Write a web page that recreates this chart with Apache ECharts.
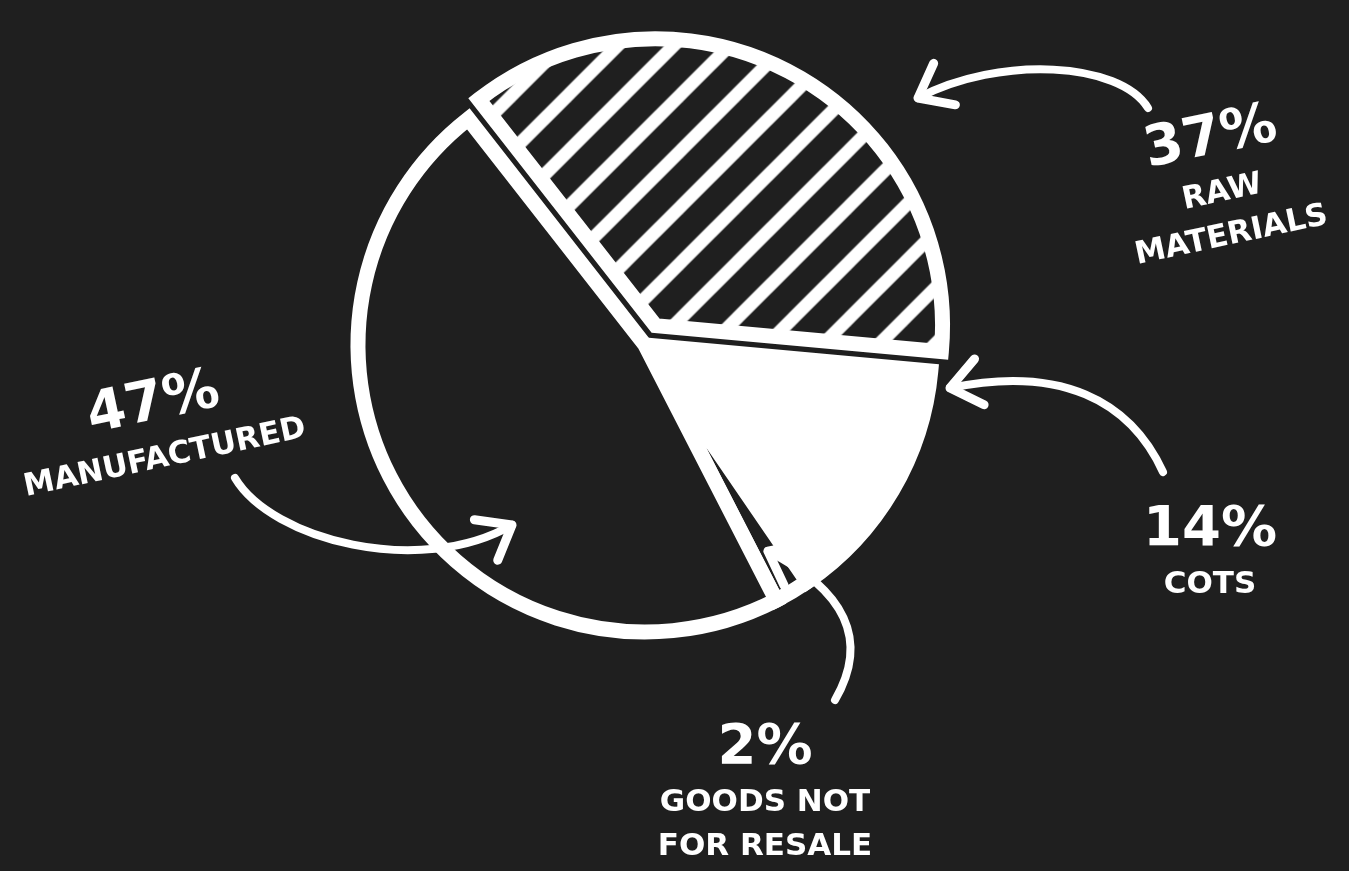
<!DOCTYPE html>
<html>
<head>
<meta charset="utf-8">
<script src="https://cdn.jsdelivr.net/npm/echarts@6/dist/echarts.min.js"></script>
<style>
html,body{margin:0;padding:0;background:#1f1f1f;}
#chart{width:1349px;height:871px;}
</style>
</head>
<body>
<div id="chart"></div>
<script>
// ---- data ----
const categories = ['Raw Materials', 'COTS', 'Goods not for resale', 'Manufactured'];
const values = [37, 14, 2, 47];
const percentLabels = ['37%', '14%', '2%', '47%'];
const nameLines = [['RAW', 'MATERIALS'], ['COTS'], ['GOODS NOT', 'FOR RESALE'], ['MANUFACTURED']];

// ---- layout / style ----
const BG = '#1f1f1f';
const FG = '#ffffff';
const CENTER = [645, 345];
const RADIUS = 287;
const START = 128;
const FONT = 'DejaVu Sans';
const labelPos = [
  { x: 1220, y: 182, rotate: 12 },
  { x: 1210, y: 552, rotate: 0 },
  { x: 765, y: 792, rotate: 0 },
  { x: 158, y: 426, rotate: 12 }
];

// hatch pattern
function hatch() {
  const s = 56, c = document.createElement('canvas');
  c.width = s; c.height = s;
  const g = c.getContext('2d');
  g.fillStyle = BG; g.fillRect(0, 0, s, s);
  g.strokeStyle = FG; g.lineWidth = 13;
  [[-s, s, s, -s], [0, s, s, 0], [0, 2 * s, 2 * s, 0]].forEach(l => {
    g.beginPath(); g.moveTo(l[0], l[1]); g.lineTo(l[2], l[3]); g.stroke();
  });
  return c;
}
const fills = [{ image: hatch(), repeat: 'repeat' }, FG, BG, BG];

const total = values.reduce((a, b) => a + b, 0);
function midAngle(i) {
  let cum = 0;
  for (let k = 0; k < i; k++) cum += values[k];
  return (START - 360 * (cum + values[i] / 2) / total) * Math.PI / 180;
}

function arrow(p0, c1, c2, p1) {
  const dx = p1[0] - c2[0], dy = p1[1] - c2[1];
  const len = Math.hypot(dx, dy), ux = dx / len, uy = dy / len;
  const L = 38, a = 38 * Math.PI / 180;
  const b1 = [p1[0] - L * (ux * Math.cos(a) - uy * Math.sin(a)), p1[1] - L * (uy * Math.cos(a) + ux * Math.sin(a))];
  const b2 = [p1[0] - L * (ux * Math.cos(a) + uy * Math.sin(a)), p1[1] - L * (uy * Math.cos(a) - ux * Math.sin(a))];
  return [
    { type: 'bezierCurve', silent: true, z: 100, shape: { x1: p0[0], y1: p0[1], cpx1: c1[0], cpy1: c1[1], cpx2: c2[0], cpy2: c2[1], x2: p1[0], y2: p1[1] },
      style: { stroke: FG, lineWidth: 8, fill: null, lineCap: 'round' } },
    { type: 'polyline', silent: true, z: 100, shape: { points: [b1, p1, b2] },
      style: { stroke: FG, lineWidth: 9, fill: null, lineCap: 'round', lineJoin: 'round' } }
  ];
}

const ga = midAngle(2);
const goodsTip = [CENTER[0] + 240 * Math.cos(ga), CENTER[1] - 240 * Math.sin(ga)];

const labels = categories.map((c, i) => ({
  type: 'text', silent: true, z: 100,
  x: labelPos[i].x, y: labelPos[i].y,
  rotation: labelPos[i].rotate * Math.PI / 180,
  style: {
    text: ['{p|' + percentLabels[i] + '}'].concat(nameLines[i].map(t => '{n|' + t + '}')).join('\n'),
    align: 'center', verticalAlign: 'middle', fill: FG,
    rich: {
      p: { fontSize: 56, fontWeight: 'bold', lineHeight: 66, fill: FG, fontFamily: FONT, align: 'center' },
      n: { fontSize: 31, fontWeight: 'bold', lineHeight: 44, fill: FG, fontFamily: FONT, align: 'center' }
    }
  }
}));

const graphics = [].concat(
  arrow([1148, 108], [1120, 62], [1000, 55], [918, 98]),
  arrow([1163, 472], [1130, 400], [1060, 365], [950, 388]),
  arrow([835, 700], [870, 640], [845, 590], goodsTip),
  arrow([235, 478], [272, 540], [420, 578], [512, 525]),
  labels
);

const chart = echarts.init(document.getElementById('chart'));
chart.setOption({
  backgroundColor: BG,
  animation: false,
  graphic: graphics,
  series: [{
    type: 'pie',
    center: CENTER,
    radius: RADIUS,
    startAngle: START,
    selectedMode: 'single',
    selectedOffset: 22,
    emphasis: { disabled: true },
    itemStyle: { borderColor: FG, borderWidth: 15, borderJoin: 'miter' },
    labelLine: { show: false },
    label: { show: false },
    data: categories.map((c, i) => ({
      name: c,
      value: values[i],
      selected: i === 0,
      itemStyle: { color: fills[i] }
    }))
  }]
});
</script>
</body>
</html>
